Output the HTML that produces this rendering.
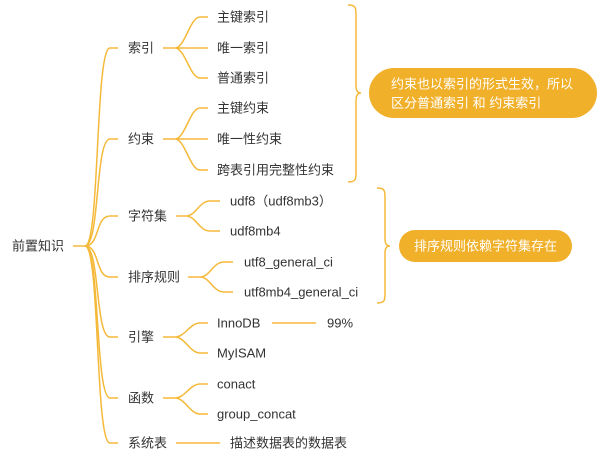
<!DOCTYPE html>
<html><head><meta charset="utf-8"><style>
html,body{margin:0;padding:0;background:#fff;width:599px;height:458px;overflow:hidden}
svg{display:block}
text{font-family:"Liberation Sans","Noto Sans CJK SC",sans-serif;font-size:13px;fill:#333;dominant-baseline:central}
.w{fill:#fff}
</style></head><body>
<svg width="599" height="458" viewBox="0 0 599 458">
<g fill="none" stroke="#f5b93a" stroke-width="1.5">
<path d="M73 246H85"/>
<path d="M85 246C100 246 95 48 110 48H118"/>
<path d="M85 246C100 246 95 139 110 139H118"/>
<path d="M85 246C100 246 95 216 110 216H118"/>
<path d="M85 246C100 246 95 277 110 277H118"/>
<path d="M85 246C100 246 95 337 110 337H118"/>
<path d="M85 246C100 246 95 398 110 398H118"/>
<path d="M85 246C100 246 95 443 110 443H118"/>
<path d="M163 48H175C185 48 190 17 200 17H208M175 48H208M175 48C185 48 190 78 200 78H208"/>
<path d="M163 139H175C185 139 190 108 200 108H208M175 139H208M175 139C185 139 190 170 200 170H208"/>
<path d="M176 216H186C196 216 199 201 210 201H220M186 216C196 216 199 231 210 231H220"/>
<path d="M188 277H200C210 277 213 262 224 262H233M200 277C210 277 213 292 224 292H233"/>
<path d="M163 337H175C185 337 190 323 200 323H208M175 337C185 337 190 353 200 353H208"/>
<path d="M163 398H175C185 398 190 384 200 384H208M175 398C185 398 190 414 200 414H208"/>
<path d="M176 443H220"/>
<path d="M272 323H316"/>
<path d="M348 5C356 5 356 8 356 15V84C356 90 357 93 361 93C357 93 356 96 356 102V172C356 179 356 182 348 182"/>
<path d="M377 188C385 188 385 191 385 198V238C385 243 386 246 390 246C386 246 385 249 385 254V293C385 300 385 303 377 303"/>
</g>
<rect x="369" y="68" width="228" height="50" rx="25" fill="#f0b02a"/>
<rect x="399" y="230" width="173" height="32" rx="16" fill="#f0b02a"/>
<text class="w" x="391" y="84">约束也以索引的形式生效，所以</text>
<text class="w" x="391" y="103">区分普通索引 和 约束索引</text>
<text class="w" x="414" y="246">排序规则依赖字符集存在</text>
<text x="12" y="246">前置知识</text>
<text x="128" y="48">索引</text>
<text x="128" y="139">约束</text>
<text x="128" y="216">字符集</text>
<text x="128" y="277">排序规则</text>
<text x="128" y="337">引擎</text>
<text x="128" y="398">函数</text>
<text x="128" y="443">系统表</text>
<text x="217" y="17">主键索引</text>
<text x="217" y="48">唯一索引</text>
<text x="217" y="78">普通索引</text>
<text x="217" y="108">主键约束</text>
<text x="217" y="139">唯一性约束</text>
<text x="217" y="170">跨表引用完整性约束</text>
<text x="230" y="201">udf8（udf8mb3）</text>
<text x="230" y="231">udf8mb4</text>
<text x="244" y="262">utf8_general_ci</text>
<text x="244" y="292">utf8mb4_general_ci</text>
<text x="217" y="323">InnoDB</text>
<text x="327" y="323">99%</text>
<text x="217" y="353">MyISAM</text>
<text x="217" y="384">conact</text>
<text x="217" y="414">group_concat</text>
<text x="230" y="443">描述数据表的数据表</text>
</svg>
</body></html>
